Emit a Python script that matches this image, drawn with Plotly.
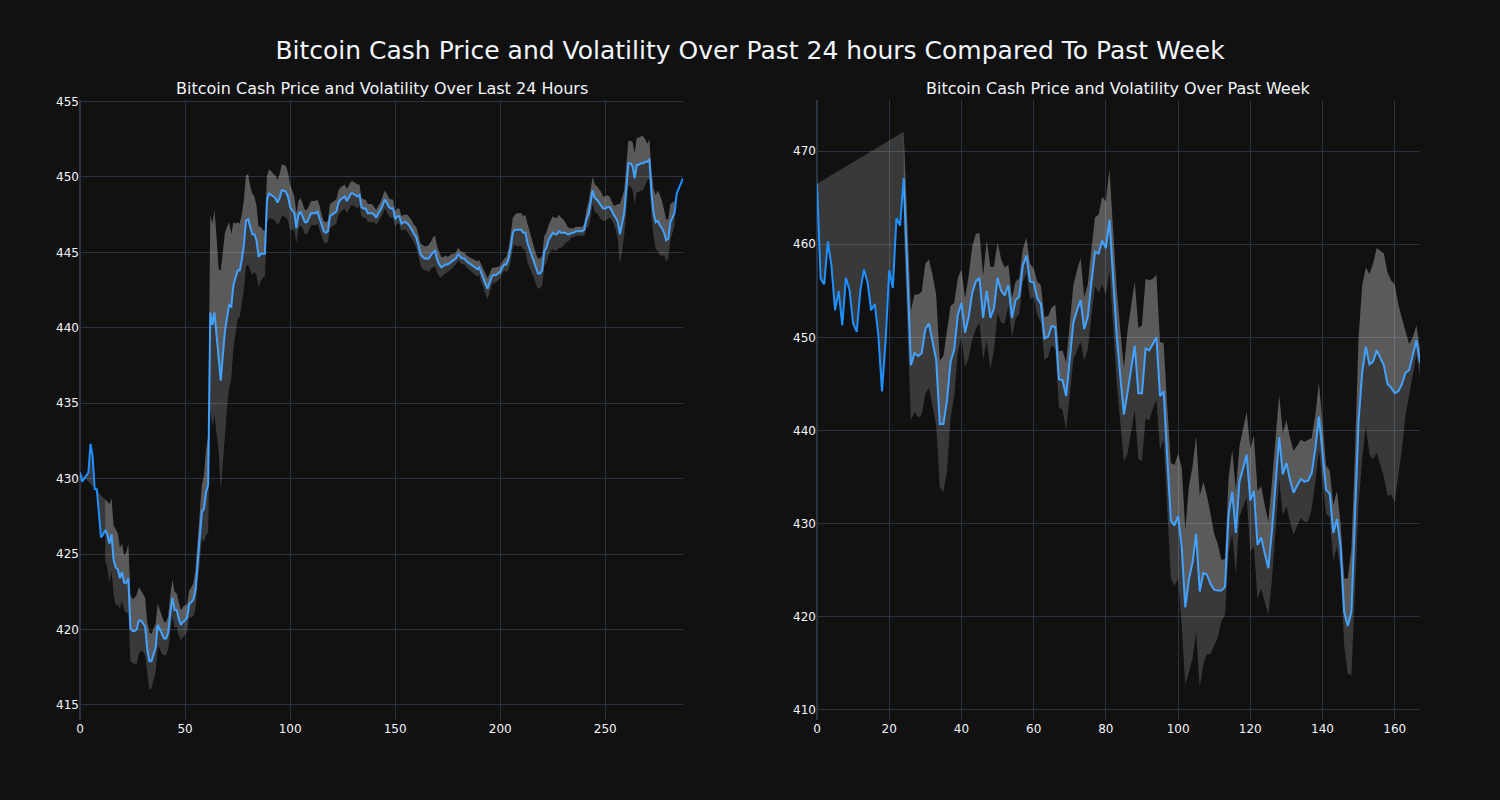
import plotly.graph_objects as go
from plotly.subplots import make_subplots

# ---------------- data: last 24 hours (5-minute steps) ----------------
price_24h = [
    430.4, 429.8, 430.0, 430.2, 430.4, 432.3, 431.5, 429.3, 429.3, 427.7,
    426.1, 426.3, 426.6, 426.3, 425.7, 426.3, 424.6, 424.1, 424.0, 423.4,
    423.8, 423.1, 423.1, 423.4, 420.1, 419.9, 419.9, 420.0, 420.6, 420.6,
    420.4, 420.2, 418.7, 417.9, 417.9, 418.4, 418.8, 420.3, 420.0, 419.6,
    419.4, 419.4, 419.8, 421.1, 422.1, 421.3, 421.3, 420.7, 420.3, 420.5,
    420.6, 420.8, 421.7, 421.8, 422.0, 422.7, 424.4, 426.3, 427.8, 428.0,
    429.1, 429.6, 441.0, 440.2, 441.0, 439.5, 437.9, 436.5, 438.2, 439.8,
    440.7, 441.5, 441.4, 442.8, 443.3, 443.8, 443.8, 444.5, 445.5, 447.1,
    447.2, 446.6, 446.2, 446.2, 445.8, 444.7, 444.9, 444.9, 444.9, 448.5,
    448.9, 448.8, 448.7, 448.6, 448.3, 448.6, 449.1, 449.1, 449.0, 448.7,
    448.0, 447.8, 447.6, 446.6, 447.5, 447.7, 447.4, 447.0, 447.0, 447.3,
    447.6, 447.6, 447.6, 447.7, 447.3, 446.8, 446.4, 446.3, 446.4, 447.4,
    447.5, 447.6, 447.7, 448.3, 448.5, 448.6, 448.7, 448.4, 448.7, 448.9,
    448.9, 448.8, 448.7, 448.8, 448.0, 447.9, 447.9, 447.6, 447.6, 447.6,
    447.5, 447.3, 447.6, 447.8, 448.1, 448.5, 448.3, 448.0, 447.9, 447.9,
    447.2, 447.4, 447.4, 446.9, 447.0, 447.0, 446.9, 446.7, 446.5, 446.2,
    446.0, 445.5, 444.9, 444.7, 444.6, 444.6, 444.6, 444.8, 445.0, 445.1,
    444.5, 444.2, 444.0, 444.1, 444.2, 444.2, 444.3, 444.4, 444.5, 444.6,
    444.9, 444.7, 444.6, 444.6, 444.4, 444.3, 444.2, 444.1, 444.0, 443.9,
    444.0, 443.6, 443.3, 442.9, 442.6, 443.0, 443.4, 443.5, 443.5, 443.6,
    443.7, 444.0, 444.2, 444.2, 444.6, 445.3, 446.3, 446.5, 446.5, 446.5,
    446.5, 446.3, 446.3, 445.6, 445.2, 444.8, 444.4, 443.9, 443.6, 443.6,
    443.8, 445.1, 445.3, 445.8, 446.1, 446.3, 446.2, 446.2, 446.4, 446.3,
    446.3, 446.3, 446.2, 446.2, 446.3, 446.3, 446.4, 446.4, 446.4, 446.4,
    446.5, 447.2, 447.5, 448.2, 449.1, 448.6, 448.5, 448.3, 448.1, 447.9,
    447.9, 448.0, 448.0, 447.8, 447.5, 447.3, 447.0, 446.2, 446.9, 447.6,
    449.2, 450.9, 450.9, 450.7, 449.9, 450.8, 450.8, 450.9, 450.9, 451.0,
    451.0, 451.2, 448.9, 447.6, 447.0, 447.1, 446.8, 446.6, 446.3, 445.8,
    445.9, 447.0, 447.3, 447.6, 448.9, 449.2, 449.5, 449.9,
]

vol_24h = [None] * 12 + [
    2.0, 2.2, 2.6, 2.4, 2.3, 2.5, 2.4, 2.0,
    1.9, 1.8, 2.0, 2.3, 2.2, 2.1, 2.2, 2.3, 2.2, 2.0,
    1.9, 1.9, 1.8, 1.9, 1.8, 1.7, 1.6, 1.4, 1.3, 1.2,
    1.1, 1.1, 1.1, 1.2, 1.2, 1.2, 1.1, 1.1, 1.0, 1.0,
    1.0, 0.9, 0.9, 1.0, 1.1, 1.3, 1.5, 1.6, 1.8, 2.2,
    2.8, 3.2, 6.5, 6.7, 6.8, 6.5, 6.0, 7.3, 7.0, 6.5,
    6.0, 5.5, 4.8, 4.2, 3.6, 3.2, 3.1, 3.0, 3.0, 3.0,
    3.0, 2.8, 2.7, 2.5, 2.3, 2.0, 1.8, 1.6, 1.5, 1.6,
    1.6, 1.6, 1.5, 1.5, 1.5, 1.6, 1.7, 1.7, 1.7, 1.6,
    1.5, 1.3, 1.1, 1.0, 0.9, 0.9, 0.8, 0.8, 0.8, 0.8,
    0.8, 0.8, 0.8, 0.8, 0.8, 0.7, 0.7, 0.7, 0.7, 0.8,
    0.8, 0.8, 0.8, 0.8, 0.8, 0.8, 0.8, 0.8, 0.8, 0.8,
    0.8, 0.8, 0.8, 0.7, 0.6, 0.6, 0.6, 0.6, 0.6, 0.6,
    0.5, 0.5, 0.5, 0.5, 0.6, 0.6, 0.6, 0.6, 0.6, 0.6,
    0.5, 0.5, 0.5, 0.5, 0.5, 0.5, 0.6, 0.6, 0.6, 0.6,
    0.7, 0.7, 0.7, 0.8, 0.8, 0.8, 0.9, 0.9, 1.0, 1.0,
    0.9, 0.8, 0.7, 0.6, 0.6, 0.5, 0.5, 0.5, 0.4, 0.4,
    0.4, 0.4, 0.4, 0.4, 0.4, 0.4, 0.45, 0.45, 0.5, 0.5,
    0.5, 0.6, 0.6, 0.7, 0.7, 0.6, 0.55, 0.5, 0.5, 0.45,
    0.4, 0.4, 0.4, 0.5, 0.7, 0.9, 1.0, 1.0, 1.1, 1.1,
    1.1, 1.1, 1.2, 1.3, 1.2, 1.1, 1.1, 1.0, 1.0, 1.0,
    1.0, 1.0, 1.0, 1.0, 1.0, 1.1, 1.1, 1.1, 1.1, 1.0,
    0.9, 0.7, 0.5, 0.4, 0.3, 0.3, 0.3, 0.3, 0.3, 0.3,
    0.4, 0.6, 0.8, 0.9, 0.9, 0.9, 0.9, 0.9, 0.9, 0.8,
    0.8, 0.8, 0.7, 0.6, 0.6, 0.8, 1.2, 2.0, 1.8, 1.5,
    1.5, 1.5, 1.5, 1.6, 1.7, 1.8, 1.8, 1.8, 1.8, 1.5,
    1.2, 1.3, 1.5, 1.6, 1.8, 2.0, 2.0, 1.8, 1.5, 1.4,
    1.3, 1.2, 1.0, 0.8,
]

# ---------------- data: past week (hourly steps) ----------------
price_week = [
    466.5, 456.3, 455.7, 460.3, 457.7, 452.9, 455.0, 451.3, 456.4, 455.1,
    451.5, 450.6, 455.0, 457.3, 455.9, 452.9, 453.6, 450.2, 444.2, 449.6,
    457.2, 455.3, 462.8, 462.0, 467.1, 457.0, 447.0, 448.3, 448.0, 448.3,
    450.9, 451.5, 449.6, 447.6, 440.7, 440.7, 443.2, 447.4, 448.7, 452.4,
    453.7, 450.5, 452.2, 454.8, 456.0, 456.4, 452.1, 455.0, 452.1, 453.1,
    456.4, 455.0, 454.5, 455.6, 452.1, 454.0, 454.4, 457.7, 458.8, 456.0,
    455.9, 454.2, 453.6, 449.9, 450.1, 451.2, 451.1, 445.5, 445.4, 443.7,
    447.6, 451.6, 452.9, 454.0, 450.9, 452.2, 455.9, 459.2, 459.0, 460.4,
    459.6, 462.6, 456.4, 450.2, 445.8, 441.7, 444.1, 446.7, 449.1, 444.0,
    444.0, 448.8, 448.6, 449.3, 450.0, 443.7, 444.2, 437.1, 430.3, 429.8,
    430.8, 427.5, 421.0, 424.0, 425.8, 428.9, 422.7, 424.7, 424.5, 423.5,
    422.9, 422.8, 422.8, 423.2, 431.0, 433.4, 429.0, 434.5, 436.0, 437.4,
    432.5, 433.5, 427.7, 428.5, 426.8, 425.2, 429.2, 434.5, 439.3, 435.3,
    436.5, 434.7, 433.3, 434.1, 434.8, 434.5, 434.6, 435.4, 438.0, 441.5,
    437.6, 433.6, 433.2, 429.0, 430.5, 427.5, 420.5, 419.0, 420.5, 430.6,
    441.1, 446.3, 449.0, 447.1, 447.4, 448.6, 447.8, 447.0, 445.0, 444.6,
    444.0, 444.2, 445.0, 446.2, 446.5, 448.0, 449.7, 447.3,
]

vol_week = [None] * 24 + [
    5.0, 5.6, 5.9, 6.3, 6.6, 6.6,
    7.0, 6.9, 7.1, 7.0, 6.8, 7.3, 7.6, 6.0, 5.0, 4.0,
    3.6, 3.7, 4.4, 5.0, 5.1, 4.8, 4.5, 5.4, 5.5, 4.5,
    3.8, 3.4, 3.0, 2.2, 2.1, 2.0, 1.9, 1.8, 1.9, 1.9,
    1.5, 1.8, 2.0, 2.3, 2.2, 2.0, 2.4, 3.0, 3.2, 3.6,
    3.8, 4.0, 4.3, 4.5, 3.4, 3.5, 3.6, 3.7, 4.2, 4.7,
    5.0, 5.5, 5.2, 5.0, 5.0, 5.0, 6.6, 6.8, 6.9, 7.0,
    7.3, 7.5, 7.5, 7.0, 6.7, 5.8, 5.2, 5.5, 6.2, 6.5,
    6.7, 8.5, 8.3, 10.0, 10.3, 10.5, 10.3, 9.8, 8.5, 7.5,
    6.0, 5.0, 3.3, 3.0, 4.0, 4.5, 4.5, 3.8, 4.2, 4.6,
    5.5, 6.0, 5.8, 5.5, 5.2, 5.0, 5.3, 4.8, 4.5, 4.4,
    4.6, 4.5, 4.5, 4.3, 4.2, 4.3, 4.4, 3.8, 3.6, 3.6,
    3.2, 2.6, 2.5, 3.0, 3.0, 2.5, 3.6, 5.1, 6.8, 7.0,
    9.0, 9.3, 8.5, 9.7, 10.5, 11.0, 11.5, 12.0, 12.0, 11.5,
    11.7, 9.3, 7.0, 4.5, 2.8, 2.0, 1.6, 1.4,
]

title_main = "Bitcoin Cash Price and Volatility Over Past 24 hours Compared To Past Week"
title_left = "Bitcoin Cash Price and Volatility Over Last 24 Hours"
title_right = "Bitcoin Cash Price and Volatility Over Past Week"

LINE_COLOR = "#1E90FF"
FILL = "rgba(255,255,255,0.17)"
FONT = "DejaVu Sans"


def band(price, vol, sign):
    return [None if v is None else p + sign * v for p, v in zip(price, vol)]


fig = make_subplots(rows=1, cols=2, subplot_titles=(title_left, title_right),
                    horizontal_spacing=0.1)

for col, price, vol in ((1, price_24h, vol_24h), (2, price_week, vol_week)):
    x = list(range(len(price)))
    fig.add_trace(go.Scatter(x=x, y=price, mode="lines",
                             line=dict(color=LINE_COLOR, width=2),
                             showlegend=False), row=1, col=col)
    fig.add_trace(go.Scatter(x=x, y=band(price, vol, 1), mode="lines",
                             line=dict(width=0, color="grey"),
                             fill="tonexty", fillcolor=FILL,
                             showlegend=False), row=1, col=col)
    fig.add_trace(go.Scatter(x=x, y=band(price, vol, -1), mode="lines",
                             line=dict(width=0, color="grey"),
                             fill="tonexty", fillcolor=FILL,
                             showlegend=False), row=1, col=col)

fig.update_xaxes(range=[0, len(price_24h) - 1], row=1, col=1)
fig.update_xaxes(range=[0, len(price_week) - 1], row=1, col=2)
fig.update_yaxes(range=[414.0, 455.1], row=1, col=1)
fig.update_yaxes(range=[408.9, 475.5], row=1, col=2)

fig.update_layout(
    template="plotly_dark",
    width=1500, height=800,
    font=dict(family=FONT),
    title=dict(text=title_main, x=0.5, xanchor="center",
               y=0.9375, yref="container", yanchor="middle",
               font=dict(size=25, family=FONT)),
    showlegend=False,
)
fig.update_annotations(font=dict(size=16, family=FONT))

fig.write_html(
    "out.html",
    config={"displayModeBar": False},
    post_script="document.body.style.margin='0';"
                "document.body.style.background='#111111';",
)
